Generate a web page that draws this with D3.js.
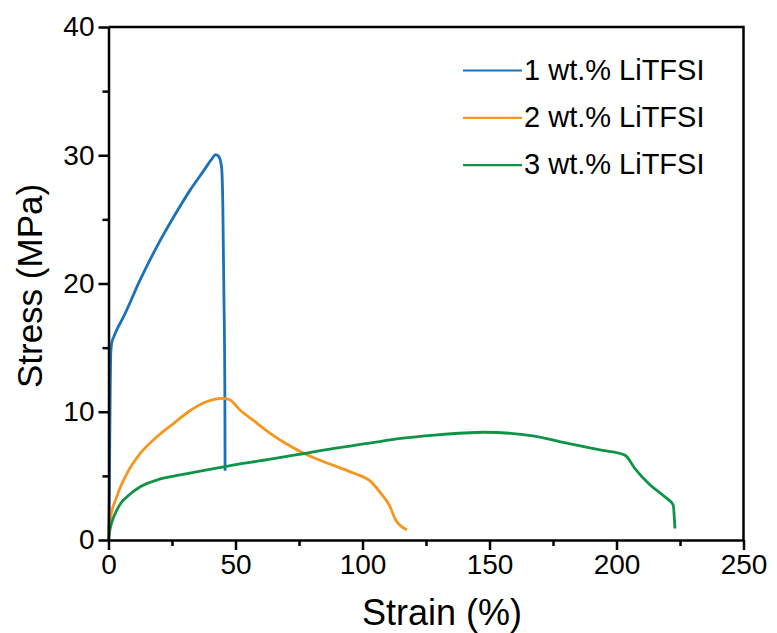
<!DOCTYPE html>
<html>
<head>
<meta charset="utf-8">
<script src="https://cdn.jsdelivr.net/npm/d3@7"></script>
<style>
  body { margin: 0; background: #fff; }
  svg { font-family: "Liberation Sans", Arial, sans-serif; }
</style>
</head>
<body>
<svg id="chart" width="777" height="633"></svg>
<script>
// series names shown in the legend
let seriesNames = ["1 wt.% LiTFSI", "2 wt.% LiTFSI", "3 wt.% LiTFSI"];

// 1 wt.% LiTFSI, strain (%) and stress (MPa)
let strain1 = [0, 0.3, 0.6, 0.9, 1.3, 2.0, 3.3, 5.9, 12.5, 19.1, 25.7, 32.2, 37.5, 41.0, 42.1, 43.4, 44.5, 45.0, 45.4, 45.8, 45.9];
let stress1 = [0, 3.0, 10.0, 14.6, 15.4, 15.8, 16.4, 17.4, 20.3, 22.9, 25.2, 27.3, 28.8, 29.8, 30.05, 29.9, 29.1, 26.2, 19.7, 11.9, 5.4];

// 2 wt.% LiTFSI
let strain2 = [0, 0.3, 3.3, 7.3, 12.5, 19.1, 25.7, 32.2, 38.8, 44.7, 47.4, 52.0, 57.2, 63.8, 70.0, 77.5, 82.2, 88.8, 96.7, 103.3, 107.2, 110.5, 113.1, 117.5];
let stress2 = [0, 1.2, 3.4, 5.2, 6.75, 8.05, 9.1, 10.1, 10.8, 11.05, 10.96, 10.1, 9.3, 8.3, 7.5, 6.7, 6.3, 5.8, 5.2, 4.55, 3.64, 2.73, 1.56, 0.8];

// 3 wt.% LiTFSI
let strain3 = [0, 0.3, 1.5, 3.3, 5.0, 7.3, 12.5, 19.1, 25.7, 30.9, 38.8, 45.4, 63.8, 75.6, 88.8, 102, 115.1, 128.3, 148, 167.7, 180.9, 194, 203.3, 207.2, 212.5, 219, 222.3, 223];
let stress3 = [0, 0.5, 1.5, 2.34, 2.9, 3.37, 4.15, 4.68, 4.98, 5.18, 5.46, 5.71, 6.3, 6.7, 7.15, 7.53, 7.92, 8.18, 8.4, 8.1, 7.53, 7.0, 6.62, 5.59, 4.42, 3.37, 2.73, 0.9];

// axis ticks
let xTicks = [0, 50, 100, 150, 200, 250];
let xMinorTicks = [25, 75, 125, 175, 225];
let yTicks = [0, 10, 20, 30, 40];
let yMinorTicks = [5, 15, 25, 35];

let colors = ["#1b72b9", "#f4961f", "#0d9446"];

let svg = d3.select("#chart");
let plotLeft = 108.5, plotRight = 743.5, plotTop = 27, plotBottom = 540;

let xScale = d3.scaleLinear().domain([0, 250]).range([plotLeft, plotRight]);
let yScale = d3.scaleLinear().domain([0, 40]).range([plotBottom, plotTop]);

// build point lists from the arrays
let series = [
  d3.zip(strain1, stress1),
  d3.zip(strain2, stress2),
  d3.zip(strain3, stress3)
];

let line = d3.line()
  .x(d => xScale(d[0]))
  .y(d => yScale(d[1]))
  .curve(d3.curveMonotoneX);

svg.append("g").selectAll("path")
  .data(series)
  .enter().append("path")
  .attr("d", line)
  .attr("fill", "none")
  .attr("stroke", (d, i) => colors[i])
  .attr("stroke-width", 2.8)
  .attr("stroke-linejoin", "round");

// minor ticks first, the major axis goes on top
svg.append("g")
  .attr("transform", "translate(0," + plotBottom + ")")
  .call(d3.axisBottom(xScale).tickValues(xMinorTicks).tickSize(6).tickFormat(""))
  .call(g => g.select(".domain").remove());

svg.append("g")
  .attr("transform", "translate(" + plotLeft + ",0)")
  .call(d3.axisLeft(yScale).tickValues(yMinorTicks).tickSize(6).tickFormat(""))
  .call(g => g.select(".domain").remove());

let xAxis = svg.append("g")
  .attr("transform", "translate(0," + plotBottom + ")")
  .call(d3.axisBottom(xScale).tickValues(xTicks).tickSizeInner(10).tickSizeOuter(0).tickPadding(4));
xAxis.selectAll("text").attr("font-size", 28).attr("fill", "#000");

let yAxis = svg.append("g")
  .attr("transform", "translate(" + plotLeft + ",0)")
  .call(d3.axisLeft(yScale).tickValues(yTicks).tickSizeInner(10).tickSizeOuter(0).tickPadding(4));
yAxis.selectAll("text").attr("font-size", 28).attr("fill", "#000");

svg.selectAll(".domain, .tick line").attr("stroke", "#000").attr("stroke-width", 2.5);

// top and right frame
svg.append("path")
  .attr("d", "M" + plotLeft + "," + plotTop + "H" + plotRight + "V" + plotBottom)
  .attr("fill", "none")
  .attr("stroke", "#000")
  .attr("stroke-width", 2.5);

// axis titles
svg.append("text")
  .attr("x", 442)
  .attr("y", 625)
  .attr("text-anchor", "middle")
  .attr("font-size", 36)
  .text("Strain (%)");

svg.append("text")
  .attr("transform", "translate(42,286) rotate(-90)")
  .attr("text-anchor", "middle")
  .attr("font-size", 35)
  .text("Stress (MPa)");

// legend
let legend = svg.append("g").selectAll("g")
  .data(seriesNames)
  .enter().append("g")
  .attr("transform", (d, i) => "translate(0," + (i * 47.3) + ")");

legend.append("line")
  .attr("x1", 463).attr("x2", 522)
  .attr("y1", 70.5).attr("y2", 70.5)
  .attr("stroke", (d, i) => colors[i])
  .attr("stroke-width", 2.2);

legend.append("text")
  .attr("x", 524)
  .attr("y", 79.5)
  .attr("font-size", 29)
  .text(d => d);
</script>
</body>
</html>
